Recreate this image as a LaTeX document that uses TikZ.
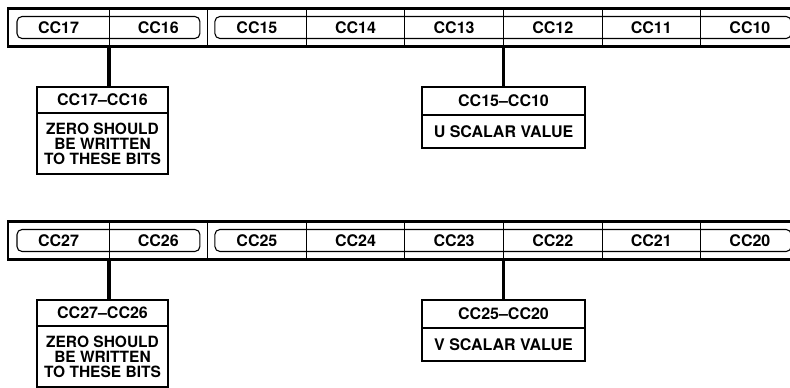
\documentclass[tikz,border=0pt]{standalone}
\usepackage{fontspec}
\setmainfont{TeX Gyre Heros}
\usetikzlibrary{positioning}

\begin{document}
\begin{tikzpicture}[
    x=1pt, y=-1pt,
    font=\fontsize{16}{15}\selectfont\bfseries,
    cell/.style={
        rectangle, draw, line width=0.8pt, outer sep=0pt, inner sep=0pt,
        minimum width=98.6pt, minimum height=38pt
    },
    frame/.style={line width=2.2pt},
    group/.style={line width=1.1pt, rounded corners=5pt},
    hdr/.style={
        rectangle, draw, line width=1.3pt, outer sep=0pt, inner sep=0pt,
        minimum height=26pt, align=center
    },
    desc/.style={
        rectangle, draw, line width=1.3pt, outer sep=0pt, inner sep=0pt,
        align=center
    },
    note/.style={font=\fontsize{15.5}{15}\selectfont\bfseries},
    conn/.style={line width=3.2pt},
]
    \useasboundingbox (0,0) rectangle (790,388);

    % Row y-coordinates.
    \def\yRegU{27.5}
    \def\yRegV{240.5}

    % ---------- U register (CC17..CC10) ----------
    \node[cell, minimum width=101pt] (cc17) at (58.5, \yRegU) {CC17};
    \node[cell, right=0pt of cc17] (cc16) {CC16};
    \node[cell, right=0pt of cc16] (cc15) {CC15};
    \node[cell, right=0pt of cc15] (cc14) {CC14};
    \node[cell, right=0pt of cc14] (cc13) {CC13};
    \node[cell, right=0pt of cc13] (cc12) {CC12};
    \node[cell, right=0pt of cc12] (cc11) {CC11};
    \node[cell, right=0pt of cc11] (cc10) {CC10};

    \draw[frame] (cc17.north west) rectangle (cc10.south east);
    \draw[group] ([xshift=9pt, yshift=11pt]cc17.west)
        rectangle ([xshift=-7.7pt, yshift=-11pt]cc16.east);
    \draw[group] ([xshift=7.3pt, yshift=11pt]cc15.west)
        rectangle ([xshift=-8pt, yshift=-11pt]cc10.east);

    % ---------- U fields ----------
    \node[hdr, minimum width=131pt] (lim-u-hi) at (102.5, 100) {CC17\textendash CC16};
    \node[desc, note, minimum width=131pt, minimum height=61pt, below=0pt of lim-u-hi]
        (zero-u) {ZERO SHOULD\\BE WRITTEN\\TO THESE BITS};
    \node[hdr, minimum width=163pt, minimum height=28pt] (lim-u-lo) at (503.5, 101) {CC15\textendash CC10};
    \node[desc, minimum width=163pt, minimum height=33pt, below=0pt of lim-u-lo]
        (scalar-u) {U SCALAR VALUE};

    \draw[conn] (cc17.south east) -- (cc17.south east |- lim-u-hi.north);
    \draw[conn] (cc13.south east) -- (cc13.south east |- lim-u-lo.north);

    % ---------- V register (CC27..CC20) ----------
    \node[cell, minimum width=101pt] (cc27) at (58.5, \yRegV) {CC27};
    \node[cell, right=0pt of cc27] (cc26) {CC26};
    \node[cell, right=0pt of cc26] (cc25) {CC25};
    \node[cell, right=0pt of cc25] (cc24) {CC24};
    \node[cell, right=0pt of cc24] (cc23) {CC23};
    \node[cell, right=0pt of cc23] (cc22) {CC22};
    \node[cell, right=0pt of cc22] (cc21) {CC21};
    \node[cell, right=0pt of cc21] (cc20) {CC20};

    \draw[frame] (cc27.north west) rectangle (cc20.south east);
    \draw[group] ([xshift=9pt, yshift=11pt]cc27.west)
        rectangle ([xshift=-7.7pt, yshift=-11pt]cc26.east);
    \draw[group] ([xshift=7.3pt, yshift=11pt]cc25.west)
        rectangle ([xshift=-8pt, yshift=-11pt]cc20.east);

    % ---------- V fields ----------
    \node[hdr, minimum width=131pt] (lim-v-hi) at (102.5, 313) {CC27\textendash CC26};
    \node[desc, note, minimum width=131pt, minimum height=61pt, below=0pt of lim-v-hi]
        (zero-v) {ZERO SHOULD\\BE WRITTEN\\TO THESE BITS};
    \node[hdr, minimum width=163pt, minimum height=28pt] (lim-v-lo) at (503.5, 314) {CC25\textendash CC20};
    \node[desc, minimum width=163pt, minimum height=33pt, below=0pt of lim-v-lo]
        (scalar-v) {V SCALAR VALUE};

    \draw[conn] (cc27.south east) -- (cc27.south east |- lim-v-hi.north);
    \draw[conn] (cc23.south east) -- (cc23.south east |- lim-v-lo.north);

\end{tikzpicture}
\end{document}
